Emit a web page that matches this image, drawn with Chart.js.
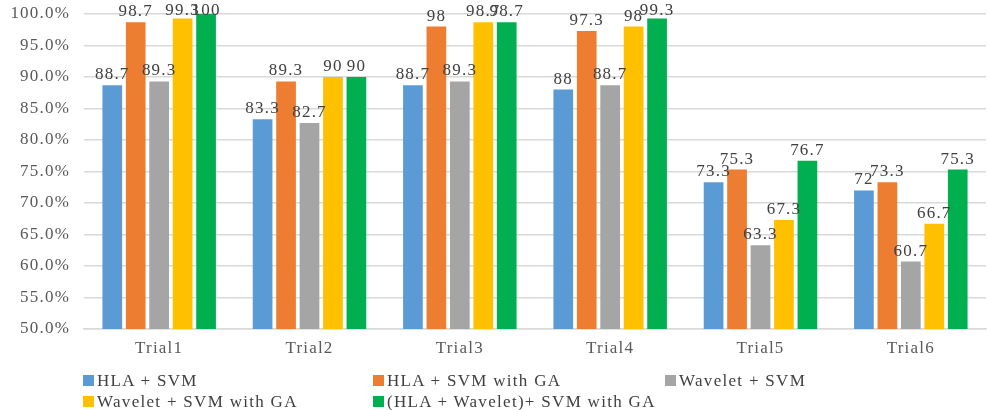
<!DOCTYPE html>
<html>
<head>
<meta charset="utf-8">
<script src="https://cdn.jsdelivr.net/npm/chart.js@4"></script>
<style>
  html, body { margin: 0; padding: 0; background: #fff; }
  #wrap { position: relative; width: 989px; height: 410px; }
  #legend { position: absolute; left: 83px; top: 371px; width: 900px;
    font-family: "Liberation Serif", "Times New Roman", serif; font-size: 17px; color: #404040; letter-spacing: 1.3px; }
  .item { position: absolute; white-space: nowrap; line-height: 20px; }
  .box { display: inline-block; width: 11px; height: 11px; margin-right: 3px; vertical-align: 0px; }
</style>
</head>
<body>
<div id="wrap">
  <canvas id="chart" width="989" height="410"></canvas>
  <div id="legend"></div>
</div>
<script>
const categories = ["Trial1", "Trial2", "Trial3", "Trial4", "Trial5", "Trial6"];
const seriesNames = ["HLA + SVM", "HLA + SVM with GA", "Wavelet + SVM", "Wavelet + SVM with GA", "(HLA + Wavelet)+ SVM with GA"];
const hlaSvm = [88.7, 83.3, 88.7, 88, 73.3, 72];
const hlaSvmGa = [98.7, 89.3, 98, 97.3, 75.3, 73.3];
const waveletSvm = [89.3, 82.7, 89.3, 88.7, 63.3, 60.7];
const waveletSvmGa = [99.3, 90, 98.7, 98, 67.3, 66.7];
const combinedSvmGa = [100, 90, 98.7, 99.3, 76.7, 75.3];
const colors = ["#5B9BD5", "#ED7D31", "#A5A5A5", "#FFC000", "#00B050"];

const allData = [hlaSvm, hlaSvmGa, waveletSvm, waveletSvmGa, combinedSvmGa];

// wider letter spacing like the Word export
const spacing = {
  id: "spacing",
  beforeLayout(chart) { chart.ctx.letterSpacing = "1.2px"; },
  beforeDraw(chart) { chart.ctx.letterSpacing = "1.2px"; }
};

// draws the value above each bar (kept inside the canvas at the top)
const valueLabels = {
  id: "valueLabels",
  afterDatasetsDraw(chart) {
    const ctx = chart.ctx;
    ctx.save();
    ctx.letterSpacing = "1.2px";
    ctx.font = "17px 'Liberation Serif', serif";
    ctx.fillStyle = "#404040";
    ctx.textAlign = "center";
    ctx.textBaseline = "alphabetic";
    chart.data.datasets.forEach((ds, i) => {
      chart.getDatasetMeta(i).data.forEach((bar, j) => {
        const y = Math.max(bar.y - 6, 15);
        ctx.fillText(String(ds.data[j]), bar.x, y);
      });
    });
    ctx.restore();
  }
};

const chart = new Chart(document.getElementById("chart"), {
  type: "bar",
  data: {
    labels: categories,
    datasets: allData.map((d, i) => ({
      label: seriesNames[i],
      data: d,
      backgroundColor: colors[i],
      categoryPercentage: 0.78,
      barPercentage: 0.84
    }))
  },
  options: {
    responsive: false,
    animation: false,
    layout: { padding: { top: 14, right: 3, left: 0, bottom: 0 } },
    plugins: {
      legend: { display: false },
      tooltip: { enabled: false }
    },
    scales: {
      y: {
        min: 50,
        max: 100,
        ticks: {
          stepSize: 5,
          callback: v => v.toFixed(1) + "%",
          color: "#595959",
          font: { family: "'Liberation Serif', serif", size: 17 },
          padding: 14
        },
        grid: { color: "#D9D9D9", lineWidth: 1.5, drawTicks: false },
        border: { display: false },
        afterFit: s => { s.width = 84; s.paddingTop = 0; s.paddingBottom = 0; }
      },
      x: {
        ticks: {
          color: "#595959",
          font: { family: "'Liberation Serif', serif", size: 17 },
          padding: 9
        },
        grid: { display: false, drawTicks: false },
        border: { color: "#D9D9D9", width: 1.5 },
        afterFit: s => { s.height = 81; }
      }
    }
  },
  plugins: [spacing, valueLabels]
});

// legend laid out in three columns like the original
const legendPos = [[0, 0], [290, 0], [582, 0], [0, 21], [290, 21]];
const legend = document.getElementById("legend");
seriesNames.forEach((name, i) => {
  const el = document.createElement("div");
  el.className = "item";
  el.style.left = legendPos[i][0] + "px";
  el.style.top = legendPos[i][1] + "px";
  el.innerHTML = '<span class="box" style="background:' + colors[i] + '"></span>' + name;
  legend.appendChild(el);
});
</script>
</body>
</html>
